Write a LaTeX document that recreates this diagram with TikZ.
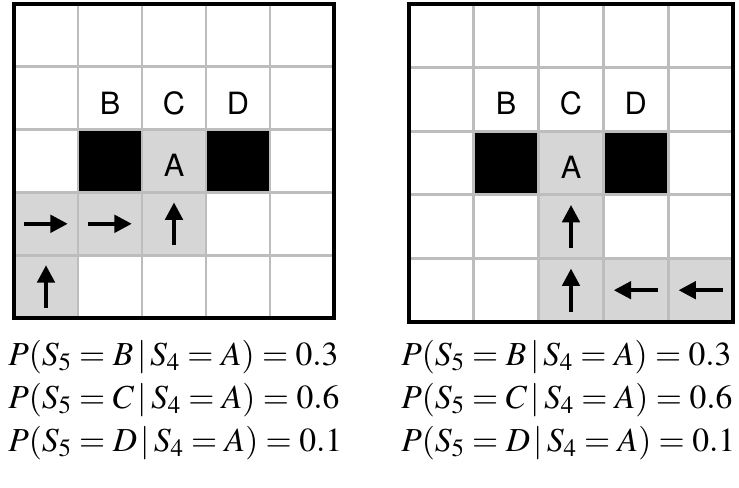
\documentclass[tikz,border=0pt]{standalone}
\usepackage{mathptmx}
\usepackage[no-math]{fontspec}
\setmainfont{Liberation Serif}
\newfontfamily\lblfont{TeX Gyre Heros}
\usetikzlibrary{arrows.meta}

\definecolor{shade}{gray}{0.84}
\definecolor{gridgray}{gray}{0.74}

\begin{document}
\begin{tikzpicture}[
  x=0.75pt, y=-0.75pt,
  visited/.style={fill=shade},
  wall/.style={fill=black},
  gridline/.style={draw=gridgray, line width=2.1pt},
  frame/.style={draw=black, line width=2.4pt},
  move/.style={-{Triangle[length=13pt,width=13pt]}, line width=2.8pt},
  lbl/.style={font=\lblfont\fontsize{23}{23}\selectfont, inner sep=0pt},
  eq/.style={anchor=base west, inner sep=0pt, font=\fontsize{25.2}{27}\selectfont}
]
\useasboundingbox (0,0) rectangle (739,488);

% left grid
\begin{scope}[shift={(14,4)}, x=48pt, y=-47.1pt]
  \fill[visited] (2,2) rectangle (3,3);
  \fill[visited] (0,3) rectangle (3,4);
  \fill[visited] (0,4) rectangle (1,5);
  \fill[wall] (1,2) rectangle (2,3);
  \fill[wall] (3,2) rectangle (4,3);
  \foreach \i in {1,...,4} {
    \draw[gridline] (\i,0) -- (\i,5);
    \draw[gridline] (0,\i) -- (5,\i);
  }
  \draw[frame] (0,0) rectangle (5,5);
  \node[lbl] (lB) at (1.5,1.58) {B};
  \node[lbl] (lC) at (2.5,1.58) {C};
  \node[lbl] (lD) at (3.5,1.58) {D};
  \node[lbl] (lA) at (2.5,2.57) {A};
  \draw[move] (0.16,3.5) -- (0.84,3.5);
  \draw[move] (1.16,3.5) -- (1.84,3.5);
  \draw[move] (2.5,3.84) -- (2.5,3.16);
  \draw[move] (0.5,4.84) -- (0.5,4.16);
\end{scope}

% right grid
\begin{scope}[shift={(409,4)}, x=48.6pt, y=-47.7pt]
  \fill[visited] (2,2) rectangle (3,4);
  \fill[visited] (2,4) rectangle (5,5);
  \fill[wall] (1,2) rectangle (2,3);
  \fill[wall] (3,2) rectangle (4,3);
  \foreach \i in {1,...,4} {
    \draw[gridline] (\i,0) -- (\i,5);
    \draw[gridline] (0,\i) -- (5,\i);
  }
  \draw[frame] (0,0) rectangle (5,5);
  \node[lbl] (rB) at (1.5,1.56) {B};
  \node[lbl] (rC) at (2.5,1.56) {C};
  \node[lbl] (rD) at (3.5,1.56) {D};
  \node[lbl] (rA) at (2.5,2.57) {A};
  \draw[move] (2.5,3.84) -- (2.5,3.16);
  \draw[move] (2.5,4.84) -- (2.5,4.16);
  \draw[move] (3.84,4.5) -- (3.16,4.5);
  \draw[move] (4.84,4.5) -- (4.16,4.5);
\end{scope}

% probabilities
\node[eq] (lpB) at (8,365) {$P(S_5 = B\,|\,S_4 = A) = 0.3$};
\node[eq] (lpC) at (8,408) {$P(S_5 = C\,|\,S_4 = A) = 0.6$};
\node[eq] (lpD) at (8,451) {$P(S_5 = D\,|\,S_4 = A) = 0.1$};
\node[eq] (rpB) at (401,365) {$P(S_5 = B\,|\,S_4 = A) = 0.3$};
\node[eq] (rpC) at (401,408) {$P(S_5 = C\,|\,S_4 = A) = 0.6$};
\node[eq] (rpD) at (401,451) {$P(S_5 = D\,|\,S_4 = A) = 0.1$};
\end{tikzpicture}
\end{document}
